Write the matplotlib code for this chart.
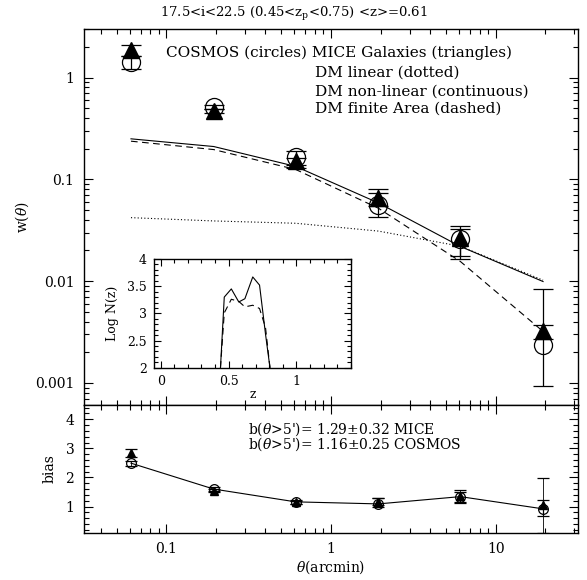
import matplotlib
matplotlib.use('Agg')
import matplotlib.pyplot as plt
from matplotlib.ticker import LogLocator, MultipleLocator, FuncFormatter, NullFormatter

plt.rcParams['font.family'] = ['DejaVu Serif']
plt.rcParams['mathtext.fontset'] = 'dejavuserif'

# ---------------- data ----------------
theta = [0.061, 0.194, 0.61, 1.94, 6.1, 19.4]

w_cosmos = [1.41, 0.515, 0.165, 0.056, 0.026, 0.00237]
w_cosmos_lo = [1.20, 0.49, 0.13, 0.043, 0.0178, 0.00093]
w_cosmos_hi = [1.64, 0.54, 0.188, 0.074, 0.0325, 0.0084]

w_mice = [1.88, 0.466, 0.150, 0.066, 0.0265, 0.0032]
w_mice_lo = [1.64, 0.445, 0.138, 0.055, 0.0165, 0.0027]
w_mice_hi = [2.11, 0.49, 0.163, 0.081, 0.035, 0.0037]

w_dm_linear = [0.042, 0.039, 0.037, 0.031, 0.022, 0.0102]
w_dm_nonlinear = [0.25, 0.21, 0.134, 0.0586, 0.0219, 0.0099]
w_dm_area = [0.237, 0.196, 0.125, 0.052, 0.0156, 0.0032]

b_cosmos = [2.49, 1.60, 1.16, 1.09, 1.34, 0.92]
b_cosmos_lo = [2.40, 1.52, 1.10, 0.98, 1.12, 0.10]
b_cosmos_hi = [2.58, 1.68, 1.22, 1.31, 1.57, 1.99]

b_mice = [2.83, 1.55, 1.14, 1.17, 1.36, 1.04]
b_mice_lo = [2.70, 1.50, 1.10, 1.05, 1.15, 0.68]
b_mice_hi = [2.97, 1.60, 1.18, 1.28, 1.50, 1.23]

z_nz = [0.44, 0.468, 0.52, 0.575, 0.62, 0.678, 0.728, 0.772, 0.805]
logn_solid = [2.0, 3.30, 3.45, 3.21, 3.27, 3.67, 3.52, 2.62, 2.0]
logn_dashed = [2.0, 3.01, 3.26, 3.22, 3.12, 3.15, 3.09, 2.74, 2.0]

title_text = r"17.5<i<22.5 (0.45<z$_{\rm p}$<0.75) <z>=0.61"
legend_lines = ["COSMOS (circles) MICE Galaxies (triangles)",
                "DM linear (dotted)",
                "DM non-linear (continuous)",
                "DM finite Area (dashed)"]
bias_lines = [r"b($\theta$>5')= 1.29$\pm$0.32 MICE",
              r"b($\theta$>5')= 1.16$\pm$0.25 COSMOS"]

# ---------------- figure ----------------
W, H = 587, 580
fig = plt.figure(figsize=(W / 100, H / 100), dpi=100)

def px_axes(x0, y0, x1, y1):
    return fig.add_axes([x0 / W, 1 - y1 / H, (x1 - x0) / W, (y1 - y0) / H])

ax = px_axes(84, 29, 578, 404.7)
axb = px_axes(84, 404.7, 578, 532.7)
axi = px_axes(154, 259, 350.7, 367.8)

FS = 10
fmt = FuncFormatter(lambda v, p: ('%g' % v))

def style(a, major=9, minor=5):
    a.tick_params(which='both', direction='in', top=True, right=True, labelsize=FS, width=0.8)
    a.tick_params(which='major', length=major * 0.72)
    a.tick_params(which='minor', length=minor * 0.72)
    for s in a.spines.values():
        s.set_linewidth(1.0)

# top panel
ax.set_xscale('log')
ax.set_yscale('log')
ax.set_xlim(10 ** -1.5, 10 ** 1.5)
ax.set_ylim(6.1e-4, 3.0)
style(ax)
ax.tick_params(axis='x', labelbottom=False)
ax.tick_params(axis='y', pad=7)
ax.yaxis.set_major_locator(LogLocator(base=10, numticks=10))
ax.yaxis.set_minor_locator(LogLocator(base=10, subs=range(2, 10), numticks=10))
ax.yaxis.set_major_formatter(fmt)
ax.yaxis.set_minor_formatter(NullFormatter())

ax.plot(theta, w_dm_linear, color='black', lw=0.8, ls=(0, (1, 2)))
ax.plot(theta, w_dm_nonlinear, color='black', lw=0.8, ls='-')
ax.plot(theta, w_dm_area, color='black', lw=0.8, ls=(0, (6, 4)))

c_err = [[c - l for c, l in zip(w_cosmos, w_cosmos_lo)], [h - c for c, h in zip(w_cosmos, w_cosmos_hi)]]
m_err = [[c - l for c, l in zip(w_mice, w_mice_lo)], [h - c for c, h in zip(w_mice, w_mice_hi)]]
ax.errorbar(theta, w_cosmos, yerr=c_err, fmt='o', ms=13, mfc='none', mec='black', mew=0.9,
            ecolor='black', elinewidth=0.9, capsize=7, capthick=0.9)
ax.errorbar(theta, w_mice, yerr=m_err, fmt='^', ms=11, mfc='black', mec='black',
            ecolor='black', elinewidth=0.9, capsize=7, capthick=0.9)

LFS = 11
ax.text(0.1, 1.75, legend_lines[0], fontsize=LFS, va='center', ha='left')
for i, yv in zip(range(1, 4), [1.11, 0.733, 0.49]):
    ax.text(0.805, yv, legend_lines[i], fontsize=LFS, va='center', ha='left')

ax.set_ylabel(r"w($\theta$)", fontsize=FS)
ax.yaxis.set_label_coords(-0.107, 0.5)

# bottom panel
axb.set_xscale('log')
axb.set_xlim(10 ** -1.5, 10 ** 1.5)
axb.set_ylim(0.1, 4.5)
style(axb)
axb.tick_params(axis='x', pad=7)
axb.tick_params(axis='y', pad=7)
axb.xaxis.set_major_formatter(fmt)
axb.xaxis.set_minor_formatter(NullFormatter())
axb.yaxis.set_major_locator(MultipleLocator(1))
axb.yaxis.set_minor_locator(MultipleLocator(0.2))

bc_err = [[c - l for c, l in zip(b_cosmos, b_cosmos_lo)], [h - c for c, h in zip(b_cosmos, b_cosmos_hi)]]
bm_err = [[c - l for c, l in zip(b_mice, b_mice_lo)], [h - c for c, h in zip(b_mice, b_mice_hi)]]
axb.plot(theta, b_cosmos, color='black', lw=0.8)
axb.errorbar(theta, b_mice, yerr=bm_err, fmt='^', ms=6, mfc='black', mec='black',
             ecolor='black', elinewidth=0.9, capsize=4, capthick=0.9)
axb.errorbar(theta, b_cosmos, yerr=bc_err, fmt='o', ms=7, mfc='none', mec='black', mew=0.9,
             ecolor='black', elinewidth=0.6, capsize=4, capthick=0.6)

axb.text(0.314, 3.40, bias_lines[0] + "\n" + bias_lines[1], fontsize=FS,
         va='center', ha='left', linespacing=0.78)

axb.set_ylabel("bias", fontsize=FS)
axb.yaxis.set_label_coords(-0.055, 0.5)
axb.set_xlabel(r"$\theta$(arcmin)", fontsize=FS)
axb.xaxis.set_label_coords(0.5, -0.2)

# inset
axi.set_xlim(-0.05, 1.4)
axi.set_ylim(2, 4)
style(axi, major=7, minor=4)
axi.tick_params(labelsize=9, pad=5)
axi.xaxis.set_major_locator(MultipleLocator(0.5))
axi.xaxis.set_minor_locator(MultipleLocator(0.1))
axi.yaxis.set_major_locator(MultipleLocator(0.5))
axi.yaxis.set_minor_locator(MultipleLocator(0.1))
axi.xaxis.set_major_formatter(fmt)
axi.yaxis.set_major_formatter(fmt)
axi.plot(z_nz, logn_solid, color='black', lw=0.8)
axi.plot(z_nz, logn_dashed, color='black', lw=0.8, ls=(0, (6, 4)))
axi.set_xlabel("z", fontsize=9)
axi.xaxis.set_label_coords(0.5, -0.19)
axi.set_ylabel("Log N(z)", fontsize=9)
axi.yaxis.set_label_coords(-0.178, 0.5)

fig.text(293.5 / W, 1 - 14 / H, title_text, fontsize=9.5, ha='center', va='center')

fig.savefig('out.png', dpi=100)
